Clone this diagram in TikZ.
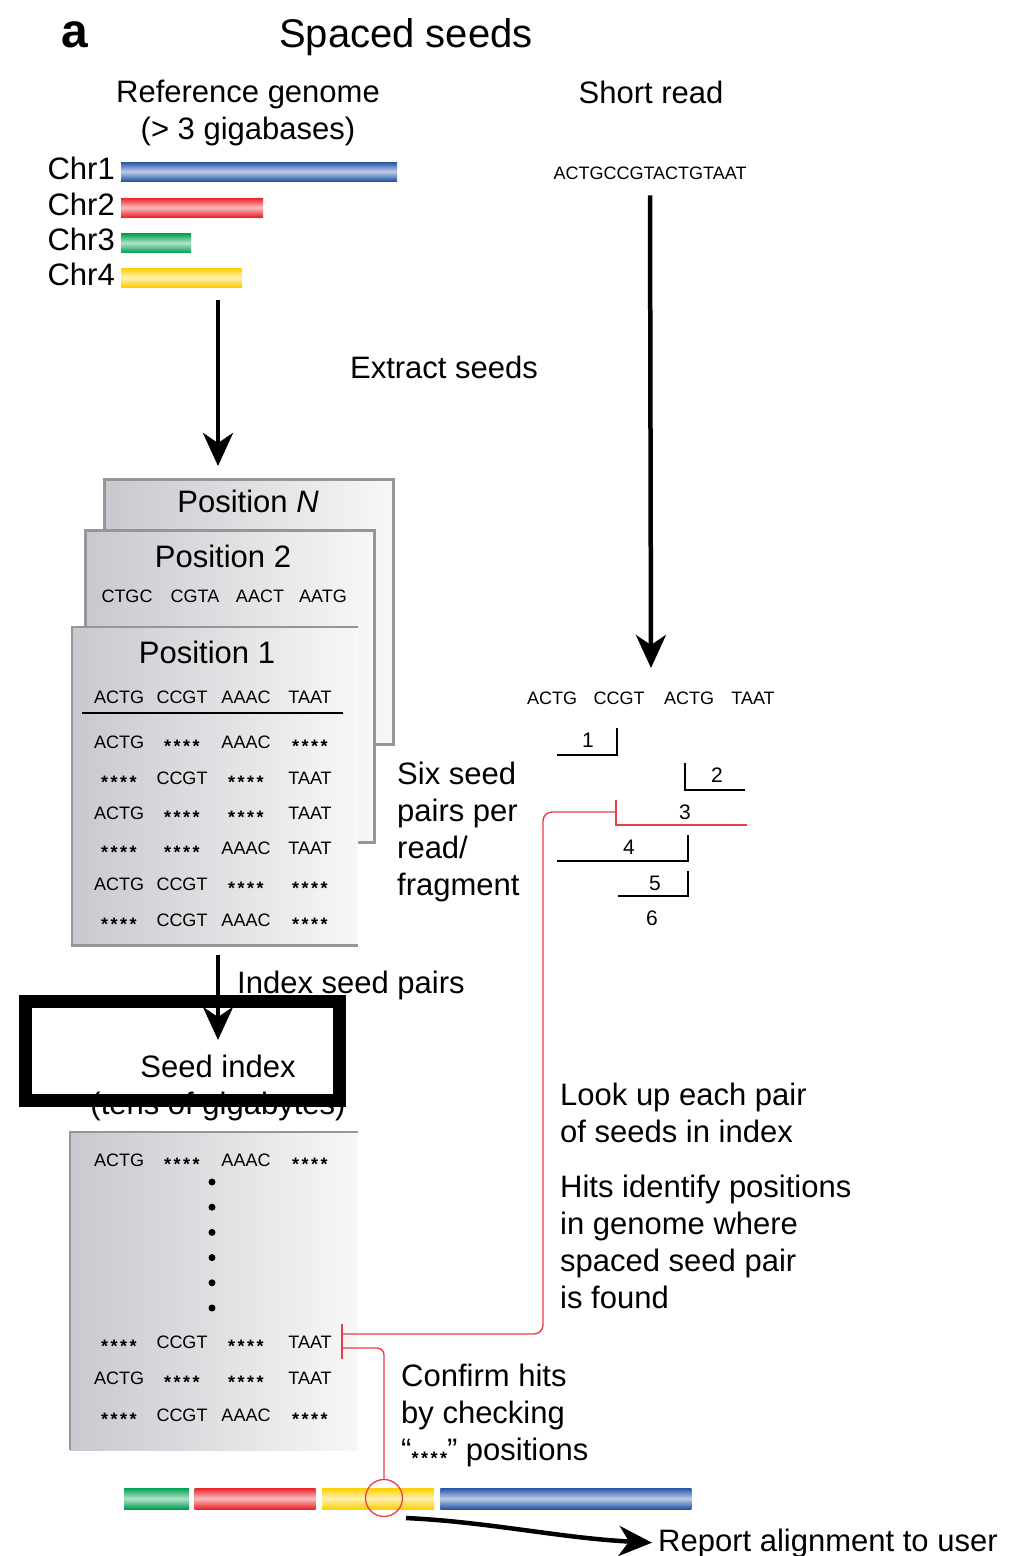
\documentclass[tikz,border=0pt]{standalone}
\usepackage{fontspec}
\setmainfont{Liberation Sans}
\usepackage{tikz}
\usetikzlibrary{
	arrows.meta,
	positioning
}
\definecolor{ChrBlue}{RGB}{35,85,170}
\definecolor{ChrRed}{RGB}{235,35,40}
\definecolor{ChrGreen}{RGB}{0,160,80}
\definecolor{ChrYellow}{RGB}{252,208,0}
\definecolor{CardEdge}{RGB}{150,150,152}
\definecolor{CardShade}{RGB}{200,200,206}
\definecolor{HitRed}{RGB}{238,60,70}
\newcommand{\bodyfont}{\fontsize{31}{37}\selectfont}
\newcommand{\seqfont}{\fontsize{18}{20}\selectfont}
\newcommand{\numfont}{\fontsize{21}{24}\selectfont}
\newcommand{\gap}{\raisebox{-4pt}{\bfseries*\kern2.5pt*\kern2.5pt*\kern2.5pt*}}

\begin{document}
\begin{tikzpicture}[x=1pt, y=-1pt,
		body/.style={font=\bodyfont, inner sep=0pt},
		seq/.style={font=\seqfont, inner sep=0pt, anchor=base},
		num/.style={font=\numfont, inner sep=0pt, anchor=base},
		bar/.style={shade, top color=#1, bottom color=#1, middle color=#1!30, minimum height=19, inner sep=0pt, anchor=west},
		card/.style={shade, left color=CardShade, right color=white!97!black, anchor=north west, inner sep=0pt},
		cardedge/.style={draw=CardEdge, line width=2.5pt},
		arr/.style={line width=4.5pt, -{Stealth[length=33pt, width=30pt, inset=10pt]}},
		pairline/.style={line width=2pt},
		hitline/.style={draw=HitRed, line width=1.4pt}]
	\useasboundingbox (0,0) rectangle (1015,1556);
	% headings
	\node[font=\fontsize{48}{50}\selectfont\bfseries, inner sep=0pt, anchor=base] (panel) at (75,47) {a};
	\node[font=\fontsize{40}{44}\selectfont, inner sep=0pt, anchor=base] (title) at (406,47) {Spaced seeds};
	\node[body, align=center, anchor=north] (refgenome) at (248,80) {Reference genome\\(> 3 gigabases)};
	\node[body, anchor=base] (shortread) at (651,103) {Short read};
	% chromosomes
	\foreach \n/\c/\w/\y in {1/ChrBlue/276/171.5, 2/ChrRed/142/207.5, 3/ChrGreen/70/243, 4/ChrYellow/121/277.5} {
		\node[bar=\c, minimum width=\w] (chr\n) at (121,\y) {};
		\node[body, anchor=base east] (chrlbl\n) at (115,{\y+7.5}) {Chr\n};
	}
	\coordinate (ext0) at (218,300);
	\coordinate (ext1) at (218,466);
	\draw[arr] (ext0) -- (ext1);
	\node[body, anchor=base] (extract) at (444,378) {Extract seeds};
	% read
	\node[seq] (read) at (650,179) {ACTGCCGTACTGTAAT};
	\coordinate (readtip) at (651,668);
	\draw[arr] ([yshift=-16pt]read.south) -- (readtip);
	\foreach \x/\s [count=\i] in {552/ACTG, 619/CCGT, 689/ACTG, 753/TAAT}
		\node[seq] (rs\i) at (\x,704) {\s};
	% seed pairs of the read
	\draw[pairline] (557,755) -- (617,755) -- (617,728);
	\draw[pairline] (685,763) -- (685,790) -- (745,790);
	\draw[pairline, HitRed] (616,800) -- (616,825) -- (747,825);
	\draw[pairline] (557,861) -- (688,861) -- (688,835);
	\draw[pairline] (618,896) -- (688,896) -- (688,871);
	\foreach \x/\y [count=\i] in {588/747, 717/782, 685/819, 629/854, 655/890, 652/925}
		\node[num] (pair\i) at (\x,\y) {\i};
	\node[body, align=left, anchor=north west] (sixpairs) at (397,762) {Six seed\\pairs per\\read/\\fragment};
	% position cards
	\node[card, cardedge, minimum width=289, minimum height=265] (cardN) at (103,478) {};
	\node[body, anchor=base] (posN) at (248,512) {Position \textit{N}};
	\node[card, cardedge, minimum width=289, minimum height=312] (card2) at (84,529) {};
	\node[body, anchor=base] (pos2) at (223,567) {Position 2};
	\foreach \x/\s [count=\i] in {127/CTGC, 195/CGTA, 260/AACT, 323/AATG}
		\node[seq] (q\i) at (\x,602) {\s};
	\node[card, minimum width=286, minimum height=318] (card1) at (72,627) {};
	\draw[cardedge] (card1.north east) -- (card1.north west) -- (card1.south west) -- (card1.south east);
	\node[body, anchor=base] (pos1) at (207,663) {Position 1};
	\foreach \x/\s [count=\i] in {119/ACTG, 182/CCGT, 246/AAAC, 310/TAAT}
		\node[seq] (h\i) at (\x,703) {\s};
	\draw[line width=2pt] (82,713) -- (343,713);
	\foreach \y/\a/\b/\c/\d [count=\i] in {748/ACTG/\gap/AAAC/\gap, 784/\gap/CCGT/\gap/TAAT, 819/ACTG/\gap/\gap/TAAT, 854/\gap/\gap/AAAC/TAAT, 890/ACTG/CCGT/\gap/\gap, 926/\gap/CCGT/AAAC/\gap} {
		\node[seq] (pa\i) at (119,\y) {\a};
		\node[seq] (pb\i) at (182,\y) {\b};
		\node[seq] (pc\i) at (246,\y) {\c};
		\node[seq] (pd\i) at (310,\y) {\d};
	}
	% index
	\coordinate (idx0) at (218,955);
	\coordinate (idx1) at (218,1040);
	\draw[arr] (idx0) -- (idx1);
	\node[body, anchor=base west] (indexlbl) at (237,993) {Index seed pairs};
	\node[body, align=center, anchor=north] (seedindex) at (218,1055) {Seed index\\(tens of gigabytes)};
	\node[draw, line width=13pt, minimum width=314, minimum height=99, inner sep=0pt] (highlight) at (182,1050.5) {};
	\node[card, minimum width=288, minimum height=318] (idxcard) at (70,1132) {};
	\draw[cardedge] (idxcard.north east) -- (idxcard.north west) -- (idxcard.south west);
	\foreach \y/\a/\b/\c/\d [count=\i] in {1166/ACTG/\gap/AAAC/\gap, 1348/\gap/CCGT/\gap/TAAT, 1384/ACTG/\gap/\gap/TAAT, 1421/\gap/CCGT/AAAC/\gap} {
		\node[seq] (ia\i) at (119,\y) {\a};
		\node[seq] (ib\i) at (182,\y) {\b};
		\node[seq] (ic\i) at (246,\y) {\c};
		\node[seq] (id\i) at (310,\y) {\d};
	}
	\foreach \k in {0,...,5}
		\fill (212,{1182+25.2*\k}) circle (3.5pt);
	\node[body, align=left, anchor=north west] (lookup) at (560,1083) {Look up each pair\\of seeds in index};
	\node[body, align=left, anchor=north west] (hits) at (560,1175) {Hits identify positions\\in genome where\\spaced seed pair\\is found};
	\node[body, align=left, anchor=north west] (confirm) at (401,1364) {Confirm hits\\by checking\\“{\seqfont\gap}” positions};
	% genome with hit
	\node[bar=ChrGreen, minimum width=65, minimum height=21] (g3) at (124,1498.5) {};
	\node[bar=ChrRed, minimum width=121, minimum height=21, right=5pt of g3] (g2) {};
	\node[bar=ChrYellow, minimum width=112, minimum height=21, right=6pt of g2] (g4) {};
	\node[bar=ChrBlue, minimum width=251, minimum height=21, right=6pt of g4] (g1) {};
	\node[circle, draw=HitRed, line width=1.3pt, minimum size=37, inner sep=0pt] (spot) at (384,1498) {};
	\coordinate (p3) at (616,812);
	\coordinate (hit) at (342,1334);
	\draw[hitline, rounded corners=9pt] (p3) -- (543,812) -- (543,1334) -- (hit);
	\draw[hitline] (342,1324) -- (342,1359);
	\draw[hitline, rounded corners=7pt] (342,1348) -| (spot.north);
	\node[body, anchor=base west] (report) at (658,1551) {Report alignment to user};
	\coordinate (rep0) at (406,1518);
	\draw[arr, shorten >=6pt] (rep0) .. controls (490,1522) and (560,1538) .. (report.west);
\end{tikzpicture}
\end{document}
